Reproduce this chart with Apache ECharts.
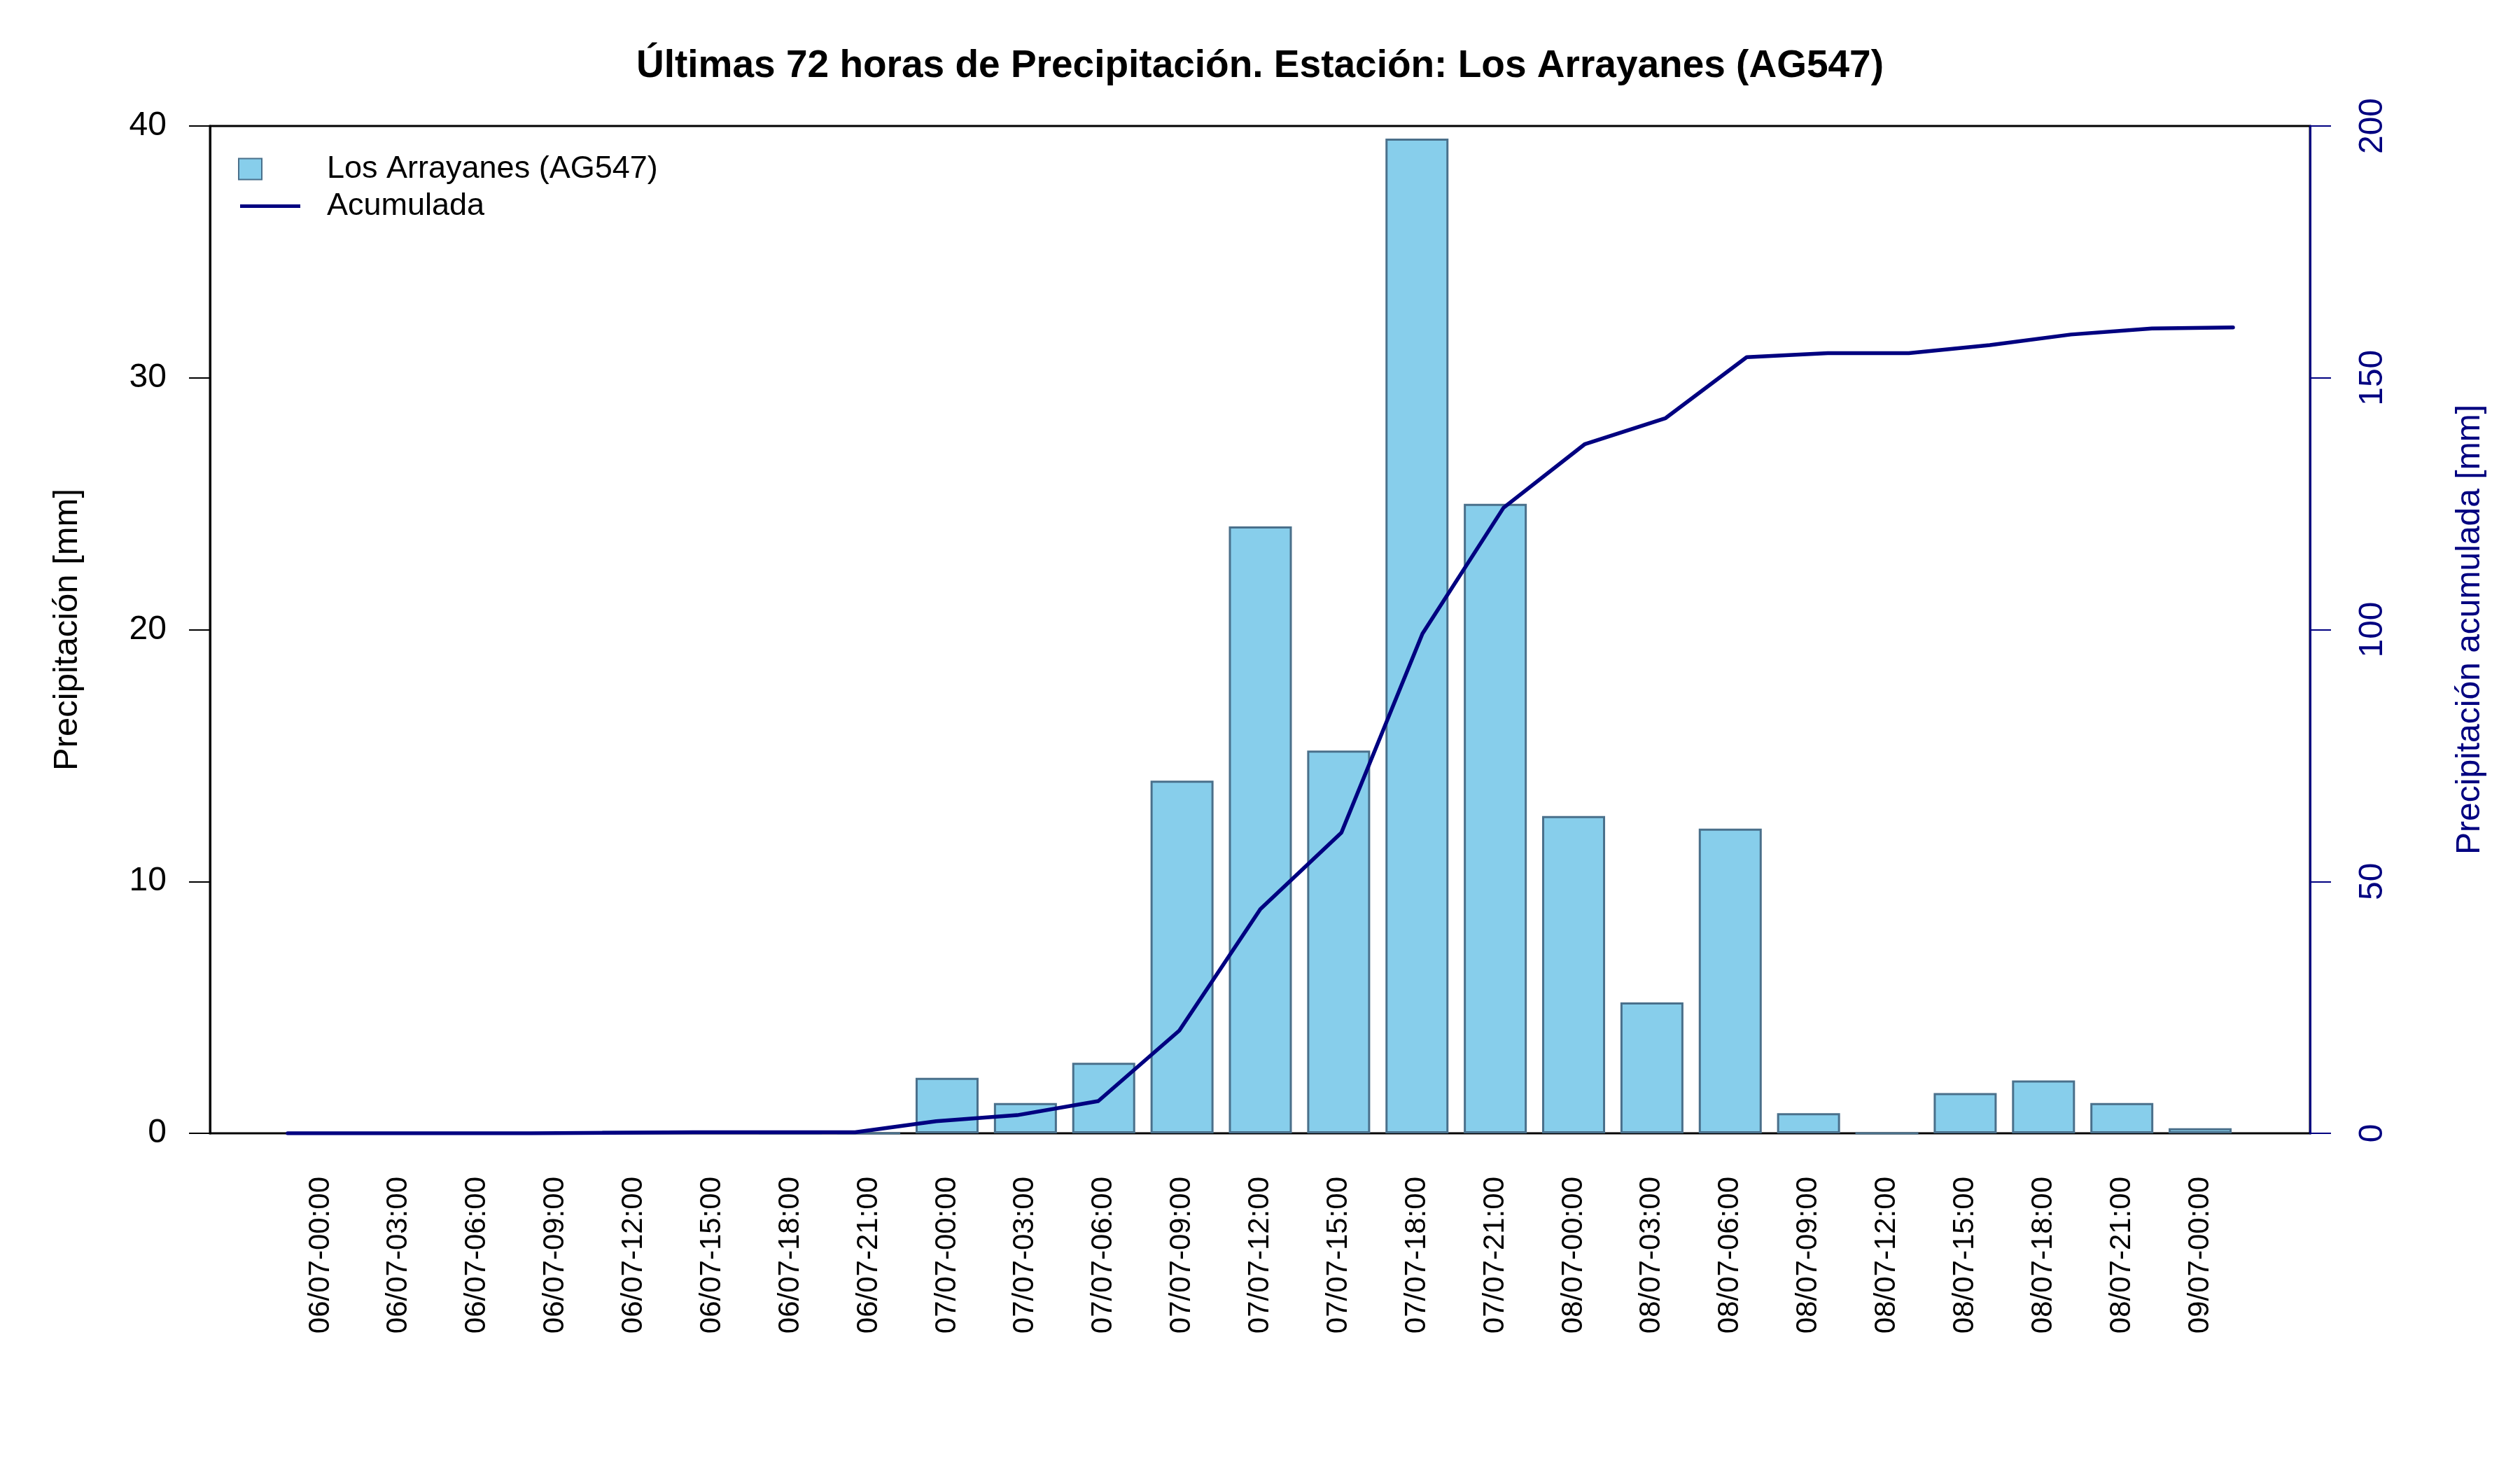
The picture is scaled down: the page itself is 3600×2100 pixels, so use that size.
<!DOCTYPE html>
<html>
<head>
<meta charset="utf-8">
<script src="https://cdn.jsdelivr.net/npm/echarts@6/dist/echarts.min.js"></script>
<style>
  html, body { margin: 0; padding: 0; background: #fff; }
  #chart { width: 3600px; height: 2100px; }
</style>
</head>
<body>
<div id="chart"></div>
<script>
// 3-hourly timestamps (last 72 h)
const horas = [
  '06/07-00:00', '06/07-03:00', '06/07-06:00', '06/07-09:00', '06/07-12:00',
  '06/07-15:00', '06/07-18:00', '06/07-21:00', '07/07-00:00', '07/07-03:00',
  '07/07-06:00', '07/07-09:00', '07/07-12:00', '07/07-15:00', '07/07-18:00',
  '07/07-21:00', '08/07-00:00', '08/07-03:00', '08/07-06:00', '08/07-09:00',
  '08/07-12:00', '08/07-15:00', '08/07-18:00', '08/07-21:00', '09/07-00:00'
]

// precipitation per interval [mm]
const precipitacion = [
  0, 0, 0, 0, 0.1, 0.1, 0, 0, 2.2, 1.2,
  2.8, 14.0, 24.1, 15.2, 39.5, 25.0, 12.6, 5.2, 12.1, 0.8,
  0, 1.6, 2.1, 1.2, 0.2
]

// accumulated precipitation [mm]
const acumulada = [
  0, 0, 0, 0, 0.1, 0.2, 0.2, 0.2, 2.4, 3.6,
  6.4, 20.4, 44.5, 59.7, 99.2, 124.2, 136.8, 142.0, 154.1, 154.9,
  154.9, 156.5, 158.6, 159.8, 160.0
]

const ticksIzq = [0, 10, 20, 30, 40]
const ticksDer = [0, 50, 100, 150, 200]

const estacion = 'Los Arrayanes (AG547)'
const fontFamily = '"Liberation Sans", Arial, Helvetica, sans-serif'
const navy = '#000080'

const chart = echarts.init(document.getElementById('chart'), null, { renderer: 'canvas' })

const option = {
  backgroundColor: '#ffffff',
  animation: false,
  textStyle: { fontFamily: fontFamily },
  title: {
    text: 'Últimas 72 horas de Precipitación. Estación: ' + estacion,
    left: 'center',
    top: 62,
    textStyle: { fontSize: 55, fontWeight: 'bold', color: '#000', fontFamily: fontFamily }
  },
  legend: [
    {
      data: [{ name: estacion, icon: 'rect' }],
      left: 335,
      top: 214,
      itemWidth: 33,
      itemHeight: 30,
      textStyle: { fontSize: 45, color: '#000', padding: [0, 0, 0, 88] }
    },
    {
      data: [{ name: 'Acumulada', icon: 'rect' }],
      left: 338,
      top: 267,
      itemWidth: 86,
      itemHeight: 5,
      textStyle: { fontSize: 45, color: '#000', padding: [0, 0, 0, 33] }
    }
  ],
  grid: [
    // frame
    { left: 300, right: 300, top: 180, bottom: 481, show: true, borderColor: '#000', borderWidth: 3, backgroundColor: 'transparent' },
    // bars
    { left: 402, right: 401, top: 180, bottom: 481 },
    // accumulated line
    { left: 411, right: 410, top: 180, bottom: 481 }
  ],
  xAxis: [
    { gridIndex: 0, type: 'value', min: 0, max: 1, show: false },
    {
      gridIndex: 1,
      type: 'category',
      data: horas,
      boundaryGap: true,
      axisLine: { show: false },
      axisTick: { show: false },
      axisLabel: { rotate: 90, margin: 62, fontSize: 42, color: '#000', interval: 0 }
    },
    { gridIndex: 2, type: 'category', data: horas, boundaryGap: false, show: false }
  ],
  yAxis: [
    {
      gridIndex: 0,
      type: 'value',
      position: 'left',
      min: ticksIzq[0],
      max: ticksIzq[ticksIzq.length - 1],
      interval: 10,
      name: 'Precipitación [mm]',
      nameLocation: 'middle',
      nameGap: 179,
      nameTextStyle: { fontSize: 49, color: '#000' },
      axisLine: { show: true, lineStyle: { color: '#000', width: 3 } },
      axisTick: { show: true, length: 30, lineStyle: { color: '#000', width: 2 } },
      axisLabel: { margin: 62, fontSize: 48, color: '#000' },
      splitLine: { show: false }
    },
    {
      gridIndex: 0,
      type: 'value',
      position: 'right',
      min: ticksDer[0],
      max: ticksDer[ticksDer.length - 1],
      interval: 50,
      name: 'Precipitación acumulada [mm]',
      nameLocation: 'middle',
      nameGap: 205,
      nameRotate: 90,
      nameTextStyle: { fontSize: 48, color: navy },
      axisLine: { show: true, lineStyle: { color: navy, width: 3 } },
      axisTick: { show: true, length: 30, lineStyle: { color: navy, width: 2 } },
      axisLabel: { rotate: 90, margin: 66, fontSize: 48, color: navy },
      splitLine: { show: false }
    },
    { gridIndex: 1, type: 'value', min: 0, max: 40, show: false },
    { gridIndex: 2, type: 'value', min: 0, max: 200, show: false }
  ],
  series: [
    {
      name: estacion,
      type: 'bar',
      xAxisIndex: 1,
      yAxisIndex: 2,
      barWidth: 90,
      itemStyle: { color: '#87CEEB', borderColor: '#4A708B', borderWidth: 3 },
      data: precipitacion
    },
    {
      name: 'Acumulada',
      type: 'line',
      xAxisIndex: 2,
      yAxisIndex: 3,
      symbol: 'none',
      itemStyle: { color: navy },
      lineStyle: { color: navy, width: 5.5, cap: 'round', join: 'round' },
      z: 5,
      data: acumulada
    }
  ]
}

chart.setOption(option)
</script>
</body>
</html>
